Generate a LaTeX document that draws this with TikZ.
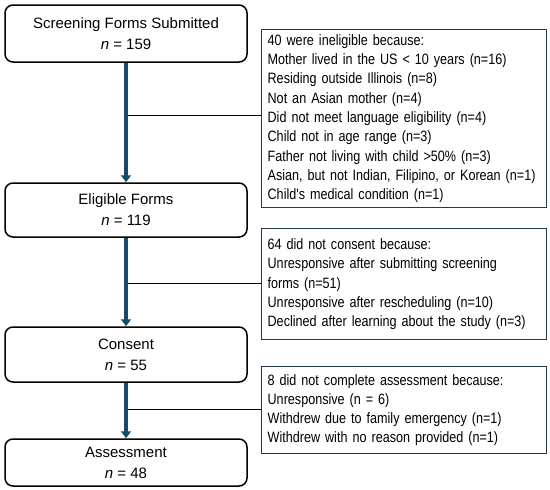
\documentclass[tikz,border=0pt]{standalone}
\usepackage{fontspec}
\setmainfont{Liberation Sans}
\newfontfamily\narrowfont[FakeStretch=0.84]{Liberation Sans}
\usetikzlibrary{arrows.meta}
\definecolor{arrowblue}{RGB}{26,74,106}
\definecolor{boxedge}{RGB}{36,58,76}
\tikzset{
  stagebox/.style={draw=black, line width=1.5pt, rounded corners=8pt, fill=white,
    minimum width=242pt, align=center, inner sep=0pt,
    font=\fontsize{15}{21}\selectfont},
  reasonbox/.style={draw=boxedge, line width=1.3pt, fill=white, anchor=north west,
    minimum width=285pt, text width=273pt, inner xsep=6pt, inner ysep=0pt, align=left,
    font=\narrowfont\fontsize{15}{19.3}\selectfont},
  flowarrow/.style={draw=arrowblue, line width=4pt, -{Triangle[width=10pt,length=7pt]}},
  branch/.style={draw=black, line width=1pt}
}
\begin{document}
\begin{tikzpicture}[x=1pt,y=-1pt]
\useasboundingbox (0,0) rectangle (550,490);
\node[stagebox, minimum height=57pt] (s1) at (126,33.5) {Screening Forms Submitted\\ \textit{n} = 159};
\node[stagebox, minimum height=54pt] (s2) at (126,210) {Eligible Forms\\ \textit{n} = 119};
\node[stagebox, minimum height=55pt] (s3) at (126,354.5) {Consent\\ \textit{n} = 55};
\node[stagebox, minimum height=47pt] (s4) at (126,462.5) {Assessment\\ \textit{n} = 48};

\node[reasonbox, minimum height=178pt] (ra) at (261,29) {40 were ineligible because:\\
Mother lived in the US < 10 years (n=16)\\
Residing outside Illinois (n=8)\\
Not an Asian mother (n=4)\\
Did not meet language eligibility (n=4)\\
Child not in age range (n=3)\\
Father not living with child >50\% (n=3)\\
\mbox{Asian, but not Indian, Filipino, or Korean (n=1)}\\
Child's medical condition (n=1)};
\node[reasonbox, minimum height=111pt] (rb) at (261,228) {64 did not consent because:\\
Unresponsive after submitting screening\\
forms (n=51)\\
Unresponsive after rescheduling (n=10)\\
Declined after learning about the study (n=3)};
\node[reasonbox, minimum height=87pt] (rc) at (261,366) {8 did not complete assessment because:\\
Unresponsive (n = 6)\\
Withdrew due to family emergency (n=1)\\
Withdrew with no reason provided (n=1)};

\coordinate (j1) at (125,115);
\coordinate (j2) at (125,283);
\coordinate (j3) at (125,409);
\draw[branch] (j1) -- (j1 -| ra.west);
\draw[branch] (j2) -- (j2 -| rb.west);
\draw[branch] (j3) -- (j3 -| rc.west);

\draw[flowarrow] (s1.south) -- (s2.north);
\draw[flowarrow] (s2.south) -- (s3.north);
\draw[flowarrow] (s3.south) -- (s4.north);
\end{tikzpicture}
\end{document}
